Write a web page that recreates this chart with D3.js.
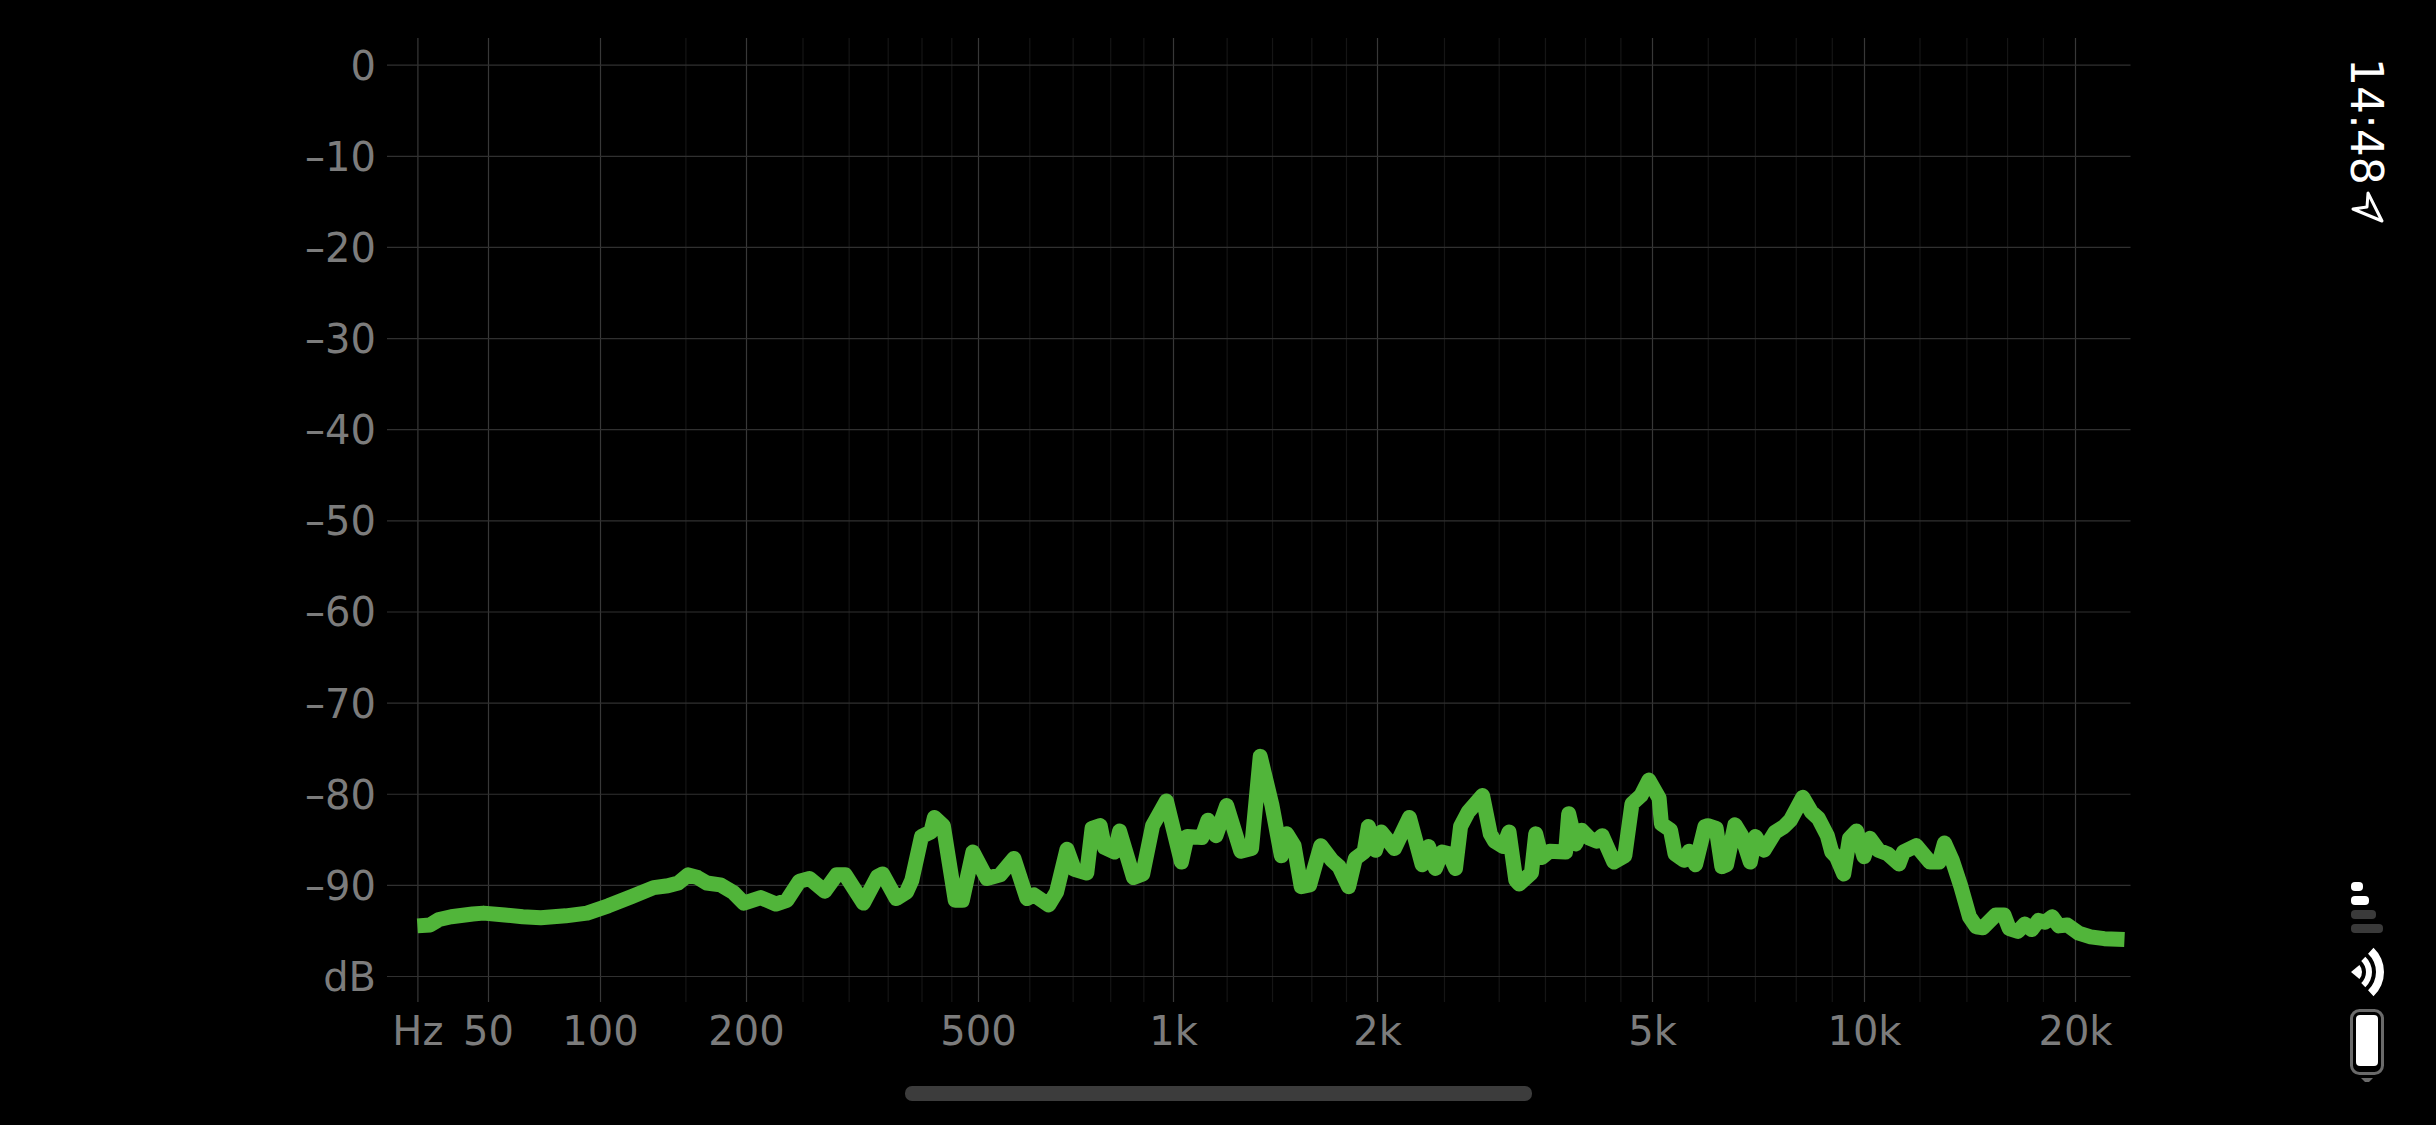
<!DOCTYPE html>
<html>
<head>
<meta charset="utf-8">
<script src="https://d3js.org/d3.v7.min.js"></script>
<style>
  html, body { margin: 0; padding: 0; background: #000; overflow: hidden; }
  svg { display: block; }
  text { font-family: "DejaVu Sans", sans-serif; }
</style>
</head>
<body>
<svg id="chart" width="2436" height="1125"></svg>
<script>
// Lecturas del espectro (Hz, dB)
const freqs = [
  20, 23.6, 26.5, 31, 41, 47.2, 55.5, 62, 69.3, 80.9, 92.3, 104, 116, 129, 138, 145,
  152, 159, 166, 177, 188, 198, 212, 225, 235, 247, 257, 273, 286, 296, 318, 336, 343,
  362, 377, 385, 400, 415, 421, 436, 457, 470, 490, 516, 541, 568, 595, 610, 643, 661,
  686, 704, 736, 750, 772, 784, 813, 827, 869, 898, 930, 977, 1029, 1049, 1103, 1126,
  1157, 1200, 1259, 1306, 1345, 1400, 1445, 1472, 1509, 1546, 1591, 1652, 1716, 1758,
  1816, 1858, 1914, 1942, 1990, 2028, 2120, 2228, 2325, 2375, 2430, 2483, 2543, 2598,
  2642, 2710, 2843, 2917, 2958, 3047, 3105, 3176, 3213, 3346, 3394, 3461, 3554, 3749,
  3788, 3878, 3955, 4063, 4156, 4236, 4403, 4567, 4677, 4820, 4948, 5118, 5156, 5312,
  5391, 5550, 5645, 5765, 5945, 6000, 6167, 6283, 6380, 6557, 6703, 6896, 7012, 7210,
  7480, 7700, 7863, 8185, 8420, 8615, 8870, 9000, 9134, 9360, 9535, 9760, 10000, 10196,
  10487, 10810, 11218, 11380, 11870, 12420, 12800, 13025, 13365, 13750, 14140, 14460,
  14780, 15410, 15840, 16115, 16580, 16965, 17350, 17740, 18135, 18550, 18960, 19500,
  20240, 21050, 22020, 23530
];
const levels = [
  -94.5, -94.4, -93.8, -93.5, -93.2, -93.1, -93.3, -93.5, -93.6, -93.4, -93.1, -92.3, -91.3, -90.3, -90.1, -89.8,
  -88.9, -89.2, -89.8, -90, -90.8, -92, -91.4, -92.1, -91.7, -89.6, -89.3, -90.7, -88.9, -88.9, -92, -89.1, -88.8,
  -91.5, -90.8, -89.5, -84.7, -84.2, -82.6, -83.5, -91.7, -91.7, -86.4, -89.3, -88.9, -87.1, -91.5, -91.1, -92.2, -90.8,
  -86.1, -88.3, -88.7, -83.8, -83.5, -85.9, -86.4, -84.1, -89.2, -88.8, -83.5, -80.8, -87.5, -84.7, -84.8, -82.9,
  -84.6, -81.3, -86.3, -86, -75.9, -81.3, -86.8, -84.4, -85.7, -90.2, -90, -85.7, -87.3, -88,
  -90.2, -87.1, -86.4, -83.6, -86.2, -84.2, -86, -82.6, -87.8, -85.8, -88.2, -86.4, -86.6, -88.2,
  -83.6, -82, -80.2, -84.4, -85.2, -85.8, -84.2, -89.5, -89.9, -88.7, -84.4, -87, -86.3, -86.4,
  -82.2, -85.5, -84, -84.9, -85.2, -84.6, -87.5, -86.8, -81.1, -80.2, -78.5, -80.5, -83.3, -84,
  -86.6, -87.3, -86.3, -87.8, -83.6, -83.5, -83.8, -88, -87.8, -83.4, -84.6, -87.5, -84.7, -86.2,
  -84.2, -83.6, -82.9, -80.4, -82, -82.7, -84.6, -86.4, -86.9, -88.8, -84.9, -84.1, -86.9, -84.9,
  -86.2, -86.6, -87.7, -86.4, -85.7, -87.5, -87.5, -85.4, -87.3, -90.2, -93.5, -94.6,
  -94.7, -93.3, -93.3, -94.8, -95.1, -94.3, -94.9, -93.9, -94.1, -93.5, -94.5, -94.4,
  -95.3, -95.7, -95.9, -96
];

const majorFreqs = [20, 50, 100, 200, 500, 1000, 2000, 5000, 10000, 20000];
const majorLabels = ["Hz", "50", "100", "200", "500", "1k", "2k", "5k", "10k", "20k"];
const minorFreqs = [
  150, 250, 300, 350, 400, 450, 600, 700, 800, 900, 1200, 1400, 1600, 1800,
  2500, 3000, 3500, 4000, 4500, 6000, 7000, 8000, 9000, 12000, 14000, 16000, 18000
];
const dbTicks = [0, -10, -20, -30, -40, -50, -60, -70, -80, -90, -100];
const dbLabels = ["0", "–10", "–20", "–30", "–40", "–50", "–60", "–70", "–80", "–90", "dB"];

const svg = d3.select("#chart");

const plotLeft = 387, plotRight = 2130.5, plotTop = 38, plotBottom = 1002;

// El eje de frecuencia no es log puro: va por tramos
const x = d3.scaleLog()
  .domain([20, 50, 100, 200, 500, 1000, 2000, 5000, 10000, 20000, 24000])
  .range([417.4, 488, 600, 746, 978, 1173, 1377, 1652, 1864, 2075, 2130.5]);

const y = d3.scaleLinear()
  .domain([0, -100])
  .range([64.7, 976]);

// Rejilla menor
svg.append("g")
  .attr("transform", `translate(0,${plotBottom})`)
  .call(d3.axisBottom(x).tickValues(minorFreqs).tickFormat("").tickSize(plotTop - plotBottom))
  .call(g => g.select(".domain").remove())
  .selectAll("line").attr("stroke", "#151515").attr("stroke-width", 1.2);

// Ejes
const xAxis = svg.append("g")
  .attr("transform", `translate(0,${plotBottom})`)
  .call(d3.axisBottom(x)
    .tickValues(majorFreqs)
    .tickFormat((d, i) => majorLabels[i])
    .tickSizeInner(plotTop - plotBottom)
    .tickSizeOuter(0)
    .tickPadding(15));
xAxis.select(".domain").remove();
xAxis.selectAll("line").attr("stroke", "#383838").attr("stroke-width", 1.2);

const yAxis = svg.append("g")
  .attr("transform", `translate(${plotLeft},0)`)
  .call(d3.axisLeft(y)
    .tickValues(dbTicks)
    .tickFormat((d, i) => dbLabels[i])
    .tickSizeInner(plotLeft - plotRight)
    .tickSizeOuter(0)
    .tickPadding(11));
yAxis.select(".domain").remove();
yAxis.selectAll("line").attr("stroke", "#303030").attr("stroke-width", 1.2);
yAxis.selectAll("text").attr("dy", "0.36em");

svg.selectAll("g.tick text")
  .attr("font-family", '"DejaVu Sans", sans-serif')
  .attr("font-size", 40)
  .attr("fill", "#7c7c7c");

// Curva
const line = d3.line()
  .x((d, i) => x(freqs[i]))
  .y(d => y(d));

svg.append("path")
  .datum(levels)
  .attr("d", line)
  .attr("fill", "none")
  .attr("stroke", "#51b53a")
  .attr("stroke-width", 15)
  .attr("stroke-linejoin", "round");

// Barra de estado del telefono
const statusBar = svg.append("g");

statusBar.append("text")
  .attr("transform", "translate(2351,58) rotate(90)")
  .attr("font-family", "Roboto, sans-serif")
  .attr("font-size", 44)
  .attr("font-weight", 500)
  .attr("fill", "#fff")
  .text("14:48");

statusBar.append("path")
  .attr("d", "M2353,209 L2382,221 L2368,193 L2367,207 Z")
  .attr("fill", "none")
  .attr("stroke", "#fff")
  .attr("stroke-width", 3)
  .attr("stroke-linejoin", "round");

const signalBars = [
  { y: 882, w: 12, on: true },
  { y: 896, w: 18, on: true },
  { y: 910, w: 25, on: false },
  { y: 924, w: 32, on: false }
];
statusBar.selectAll("rect.signal")
  .data(signalBars)
  .join("rect")
  .attr("class", "signal")
  .attr("x", 2351)
  .attr("y", d => d.y)
  .attr("width", d => d.w)
  .attr("height", 9)
  .attr("rx", 4)
  .attr("fill", d => d.on ? "#fff" : "#3a3a3a");

const wifi = statusBar.append("g").attr("transform", "translate(2351,972)");
const arc = d3.arc();
[[0, 11], [15, 21], [25, 33]].forEach(([inner, outer], i) => {
  const spread = i === 0 ? 40 : 47;
  wifi.append("path")
    .attr("d", arc({
      innerRadius: inner,
      outerRadius: outer,
      startAngle: (90 - spread) * Math.PI / 180,
      endAngle: (90 + spread) * Math.PI / 180
    }))
    .attr("fill", "#fff");
});

statusBar.append("rect")
  .attr("x", 2351.5).attr("y", 1010.5)
  .attr("width", 31).attr("height", 63)
  .attr("rx", 8)
  .attr("fill", "none")
  .attr("stroke", "#6a6a6a")
  .attr("stroke-width", 3);
statusBar.append("rect")
  .attr("x", 2356).attr("y", 1015)
  .attr("width", 22).attr("height", 51)
  .attr("rx", 4)
  .attr("fill", "#fff");
statusBar.append("path")
  .attr("d", "M2361,1078 L2373,1078 L2369,1082 L2365,1082 Z")
  .attr("fill", "#6a6a6a");

// Indicador de inicio
svg.append("rect")
  .attr("x", 905).attr("y", 1086)
  .attr("width", 627).attr("height", 15)
  .attr("rx", 7)
  .attr("fill", "#3c3c3c");
</script>
</body>
</html>
